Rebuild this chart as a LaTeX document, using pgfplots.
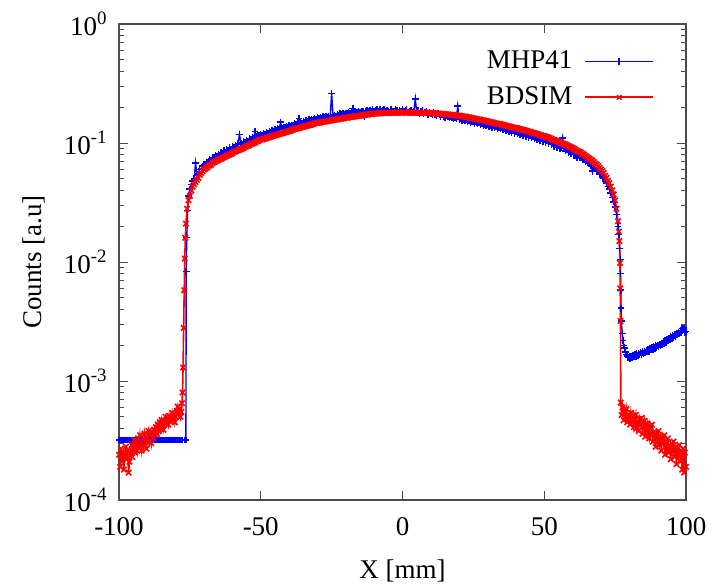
\documentclass[border=0pt]{standalone}
\usepackage{fontspec}
\setmainfont{Liberation Serif}
\usepackage{pgfplots}
\pgfplotsset{compat=1.18}
\definecolor{gpblue}{RGB}{0,0,255}
\definecolor{gpred}{RGB}{255,0,0}
\pgfplotsset{
  blueleg/.style={legend image code/.code={\draw[draw=gpblue,line width=0.9pt] (0pt,0pt) -- (34pt,0pt); \draw[draw=gpblue,line width=0.7pt] plot[mark=+,mark size=1.6pt] coordinates {(17pt,0pt)};}},
  redleg/.style={legend image code/.code={\draw[draw=gpred,line width=0.9pt] (0pt,0pt) -- (34pt,0pt); \draw[draw=gpred,line width=0.7pt] plot[mark=x,mark size=1.6pt] coordinates {(17pt,0pt)};}}
}

\begin{document}
\fontsize{13.5}{16}\selectfont
\begin{tikzpicture}
\path[use as bounding box] (-59.5pt,-43pt) rectangle (298.5pt,250pt);
\begin{axis}[
  scale only axis,
  width=283.5pt, height=238pt,
  at={(0,0)}, anchor=south west,
  ymode=log,
  xmin=-100, xmax=100,
  ymin=1e-4, ymax=1,
  xtick={-100,-50,0,50,100},
  xticklabels={-100,-50,0,50,100},
  ytick={1e-4,1e-3,1e-2,1e-1,1},
  yticklabels={10\textsuperscript{-4},10\textsuperscript{-3},10\textsuperscript{-2},10\textsuperscript{-1},10\textsuperscript{0}},
  minor xtick={},
  tick align=inside,
  major tick length=4.5pt,
  minor tick length=2.5pt,
  every tick/.style={black!70, line width=0.5pt},
  axis line style={black!70, line width=0.6pt},
  tick label style={font=\fontsize{13.5}{16}\selectfont},
  label style={font=\fontsize{13.5}{16}\selectfont},
  xticklabel style={yshift=-4pt},
  yticklabel style={xshift=-1pt},
  xlabel={X [mm]},
  ylabel={Counts [a.u]},
  xlabel style={yshift=-3pt},
  legend style={draw=none, fill=none, at={(0.955,0.962)}, anchor=north east,
    font=\fontsize{13.5}{16}\selectfont, row sep=3pt, column sep=4pt},
  legend cell align=right,
  legend plot pos=right,
]
\addplot[gpblue, line width=0.7pt, mark=+, mark size=1.7pt, blueleg]
coordinates {
(-100,0.00032)(-99.5,0.00032)(-99,0.00032)(-98.5,0.00032)(-98,0.00032)(-97.5,0.00032)(-97,0.00032)(-96.5,0.00032)(-96,0.00032)(-95.5,0.00032)
(-95,0.00032)(-94.5,0.00032)(-94,0.00032)(-93.5,0.00032)(-93,0.00032)(-92.5,0.00032)(-92,0.00032)(-91.5,0.00032)(-91,0.00032)(-90.5,0.00032)
(-90,0.00032)(-89.5,0.00032)(-89,0.00032)(-88.5,0.00032)(-88,0.00032)(-87.5,0.00032)(-87,0.00032)(-86.5,0.00032)(-86,0.00032)(-85.5,0.00032)
(-85,0.00032)(-84.5,0.00032)(-84,0.00032)(-83.5,0.00032)(-83,0.00032)(-82.5,0.00032)(-82,0.00032)(-81.5,0.00032)(-81,0.00032)(-80.5,0.00032)
(-80,0.00032)(-79.5,0.00032)(-79,0.00032)(-78.5,0.00032)(-78,0.00032)(-77.5,0.00032)(-77,0.00032)(-76.6,0.00032)(-76.4,0.00032)
(-76.3,0.0083)(-76.1,0.016)(-75.8,0.027)(-75.5,0.036)(-75,0.041)(-74.5,0.045)(-74,0.048)(-73.5,0.050)(-73,0.068)(-72.5,0.054)
(-72,0.055)(-71.5,0.060)(-71,0.061)(-70.5,0.064)(-70,0.066)(-69.5,0.066)(-69,0.069)(-68.5,0.070)(-68,0.073)(-67.5,0.072)
(-67,0.076)(-66.5,0.075)(-66,0.078)(-65.5,0.077)(-65,0.081)(-64.5,0.079)(-64,0.083)(-63.5,0.082)(-63,0.086)(-62.5,0.084)
(-62,0.088)(-61.5,0.086)(-61,0.091)(-60.5,0.089)(-60,0.093)(-59.5,0.092)(-59,0.096)(-58.5,0.094)(-58,0.099)(-57.5,0.118)
(-57,0.100)(-56.5,0.098)(-56,0.103)(-55.5,0.102)(-55,0.106)(-54.5,0.104)(-54,0.109)(-53.5,0.108)(-53,0.112)(-52.5,0.110)
(-52,0.125)(-51.5,0.113)(-51,0.117)(-50.5,0.116)(-50,0.119)(-49.5,0.116)(-49,0.121)(-48.5,0.119)(-48,0.124)(-47.5,0.121)
(-47,0.126)(-46.5,0.124)(-46,0.128)(-45.5,0.125)(-45,0.130)(-44.5,0.127)(-44,0.132)(-43.5,0.130)(-43,0.150)(-42.5,0.132)
(-42,0.136)(-41.5,0.134)(-41,0.138)(-40.5,0.136)(-40,0.140)(-39.5,0.138)(-39,0.142)(-38.5,0.141)(-38,0.146)(-37.5,0.143)
(-37,0.148)(-36.5,0.160)(-36,0.149)(-35.5,0.147)(-35,0.152)(-34.5,0.150)(-34,0.155)(-33.5,0.152)(-33,0.157)(-32.5,0.154)
(-32,0.159)(-31.5,0.157)(-31,0.162)(-30.5,0.159)(-30,0.163)(-29.5,0.160)(-29,0.165)(-28.5,0.162)(-28,0.166)(-27.5,0.163)
(-27,0.168)(-26.5,0.165)(-26,0.169)(-25.5,0.167)(-25,0.262)(-24.5,0.168)(-24,0.172)(-23.5,0.169)(-23,0.174)(-22.5,0.171)
(-22,0.176)(-21.5,0.173)(-21,0.177)(-20.5,0.174)(-20,0.178)(-19.5,0.176)(-19,0.180)(-18.5,0.177)(-18,0.182)(-17.5,0.196)
(-17,0.181)(-16.5,0.184)(-16,0.180)(-15.5,0.185)(-15,0.182)(-14.5,0.186)(-14,0.183)(-13.5,0.168)(-13,0.185)(-12.5,0.188)
(-12,0.184)(-11.5,0.189)(-11,0.186)(-10.5,0.190)(-10,0.185)(-9.5,0.189)(-9,0.192)(-8.5,0.184)(-8,0.190)(-7.5,0.186)
(-7,0.188)(-6.5,0.191)(-6,0.184)(-5.5,0.189)(-5,0.186)(-4.5,0.180)(-4,0.191)(-3.5,0.186)(-3,0.183)(-2.5,0.190)
(-2,0.187)(-1.5,0.181)(-1,0.189)(-0.5,0.185)(0,0.190)(0.5,0.183)(1,0.187)(1.5,0.191)(2,0.182)(2.5,0.186)
(3,0.189)(3.5,0.180)(4,0.185)(4.5,0.235)(5,0.183)(5.5,0.187)(6,0.178)(6.5,0.184)(7,0.187)(7.5,0.176)
(8,0.182)(8.5,0.185)(9,0.174)(9.5,0.180)(10,0.178)(10.5,0.172)(11,0.180)(11.5,0.175)(12,0.170)(12.5,0.176)
(13,0.172)(13.5,0.167)(14,0.173)(14.5,0.168)(15,0.165)(15.5,0.170)(16,0.166)(16.5,0.162)(17,0.167)(17.5,0.163)
(18,0.159)(18.5,0.164)(19,0.160)(19.5,0.205)(20,0.157)(20.5,0.161)(21,0.155)(21.5,0.158)(22,0.153)(22.5,0.156)
(23,0.150)(23.5,0.154)(24,0.149)(24.5,0.152)(25,0.150)(25.5,0.147)(26,0.149)(26.5,0.145)(27,0.148)(27.5,0.143)
(28,0.146)(28.5,0.141)(29,0.144)(29.5,0.140)(30,0.142)(30.5,0.138)(31,0.141)(31.5,0.136)(32,0.139)(32.5,0.134)
(33,0.137)(33.5,0.132)(34,0.136)(34.5,0.131)(35,0.134)(35.5,0.129)(36,0.132)(36.5,0.127)(37,0.130)(37.5,0.125)
(38,0.128)(38.5,0.123)(39,0.126)(39.5,0.121)(40,0.125)(40.5,0.120)(41,0.123)(41.5,0.118)(42,0.121)(42.5,0.116)
(43,0.119)(43.5,0.114)(44,0.117)(44.5,0.112)(45,0.115)(45.5,0.110)(46,0.113)(46.5,0.108)(47,0.111)(47.5,0.106)
(48,0.109)(48.5,0.104)(49,0.108)(49.5,0.103)(50,0.106)(50.5,0.101)(51,0.104)(51.5,0.099)(52,0.102)(52.5,0.097)
(53,0.099)(53.5,0.094)(54,0.097)(54.5,0.092)(55,0.095)(55.5,0.090)(56,0.092)(56.5,0.110)(57,0.090)(57.5,0.086)
(58,0.088)(58.5,0.083)(59,0.086)(59.5,0.081)(60,0.084)(60.5,0.080)(61,0.081)(61.5,0.075)(62,0.078)(62.5,0.076)
(63,0.076)(63.5,0.073)(64,0.073)(64.5,0.070)(65,0.071)(65.5,0.068)(66,0.068)(66.5,0.064)(67,0.058)(67.5,0.062)
(68,0.061)(68.5,0.059)(69,0.058)(69.5,0.055)(70,0.055)(70.5,0.052)(71,0.051)(71.5,0.048)(72,0.046)(72.5,0.043)
(73,0.041)(73.5,0.038)(74,0.035)(74.5,0.032)(75,0.029)(75.5,0.025)(76,0.020)(76.3,0.017)(76.6,0.013)(76.8,0.0105)
(76.9,0.0080)(77.0,0.0058)(77.1,0.0041)(77.2,0.0032)(77.5,0.0025)(77.8,0.0022)(78,0.0020)(78.3,0.0019)(78.6,0.00175)(79,0.00168)
(79.3,0.00162)(79.6,0.00158)(80,0.00160)(80.3,0.00155)(80.6,0.00162)(81,0.00158)(81.3,0.00165)(81.6,0.00159)(82,0.00166)(82.3,0.00161)
(82.6,0.00170)(83,0.00163)(83.3,0.00172)(83.6,0.00166)(84,0.00174)(84.3,0.00168)(84.6,0.00176)(85,0.00171)(85.3,0.00179)(85.6,0.00173)
(86,0.00181)(86.3,0.00176)(86.6,0.00185)(87,0.00178)(87.3,0.00187)(87.6,0.00182)(88,0.00191)(88.3,0.00185)(88.6,0.00194)(89,0.00188)
(89.3,0.00198)(89.6,0.00192)(90,0.00201)(90.3,0.00195)(90.6,0.00205)(91,0.00199)(91.3,0.00209)(91.6,0.00203)(92,0.00214)(92.3,0.00207)
(92.6,0.00219)(93,0.00212)(93.3,0.00224)(93.6,0.00217)(94,0.00229)(94.3,0.00222)(94.6,0.00235)(95,0.00227)(95.3,0.00240)(95.6,0.00233)
(96,0.00246)(96.3,0.00238)(96.6,0.00252)(97,0.00244)(97.3,0.00258)(97.6,0.00250)(98,0.00264)(98.3,0.00255)(98.6,0.00275)(99,0.00268)
(99.3,0.00278)(99.6,0.00255)(100,0.00262)
};
\addlegendentry{MHP41}
\addplot[gpred, line width=0.8pt, mark=x, mark size=1.9pt, redleg]
coordinates {
(-100,0.00024)(-99.6,0.00019)(-99.3,0.00027)(-99,0.00021)(-98.6,0.00025)(-98.3,0.00018)(-98,0.00023)(-97.6,0.00028)(-97.3,0.00022)(-97,0.00026)
(-96.6,0.00017)(-96.3,0.00021)(-96,0.00025)(-95.6,0.00029)(-95.3,0.00023)(-95,0.00027)(-94.6,0.00032)(-94.3,0.00025)(-94,0.00030)(-93.6,0.00026)
(-93.3,0.00033)(-93,0.00028)(-92.6,0.00035)(-92.3,0.00030)(-92,0.00026)(-91.6,0.00033)(-91.3,0.00029)(-91,0.00036)(-90.6,0.00031)(-90.3,0.00027)
(-90,0.00034)(-89.6,0.00038)(-89.3,0.00031)(-89,0.00035)(-88.6,0.00030)(-88.3,0.00037)(-88,0.00033)(-87.6,0.00039)(-87.3,0.00035)(-87,0.00041)
(-86.6,0.00036)(-86.3,0.00043)(-86,0.00038)(-85.6,0.00045)(-85.3,0.00040)(-85,0.00047)(-84.6,0.00042)(-84.3,0.00039)(-84,0.00046)(-83.6,0.00050)
(-83.3,0.00044)(-83,0.00048)(-82.6,0.00043)(-82.3,0.00051)(-82,0.00046)(-81.6,0.00049)(-81.3,0.00054)(-81,0.00047)(-80.6,0.00052)(-80.3,0.00045)
(-80,0.00050)(-79.6,0.00056)(-79.3,0.00061)(-79,0.00053)(-78.6,0.00058)(-78.3,0.00050)(-78,0.00055)(-77.8,0.00065)(-77.6,0.00080)(-77.4,0.0013)
(-77.2,0.0028)(-77.0,0.0058)
(-76.8,0.0107)(-76.6,0.016)(-76.4,0.021)(-76.0,0.028)(-75.5,0.033)(-75,0.036)(-74.5,0.040)(-74,0.043)(-73.5,0.045)(-73,0.047)
(-72.5,0.049)(-72,0.051)(-71.5,0.054)(-71,0.056)(-70.5,0.058)(-70,0.060)(-69.5,0.061)(-69,0.062)(-68.5,0.064)(-68,0.065)
(-67.5,0.066)(-67,0.068)(-66.5,0.069)(-66,0.070)(-65.5,0.071)(-65,0.072)(-64.5,0.073)(-64,0.074)(-63.5,0.075)(-63,0.076)
(-62.5,0.077)(-62,0.078)(-61.5,0.079)(-61,0.080)(-60.5,0.081)(-60,0.082)(-59.5,0.084)(-59,0.085)(-58.5,0.086)(-58,0.087)
(-57.5,0.088)(-57,0.089)(-56.5,0.090)(-56,0.091)(-55.5,0.093)(-55,0.094)(-54.5,0.095)(-54,0.096)(-53.5,0.098)(-53,0.099)
(-52.5,0.100)(-52,0.101)(-51.5,0.103)(-51,0.104)(-50.5,0.106)(-50,0.107)(-49.5,0.107)(-49,0.108)(-48.5,0.109)(-48,0.110)
(-47.5,0.111)(-47,0.112)(-46.5,0.113)(-46,0.114)(-45.5,0.115)(-45,0.116)(-44.5,0.117)(-44,0.118)(-43.5,0.119)(-43,0.120)
(-42.5,0.121)(-42,0.122)(-41.5,0.123)(-41,0.124)(-40.5,0.125)(-40,0.126)(-39.5,0.127)(-39,0.128)(-38.5,0.130)(-38,0.131)
(-37.5,0.132)(-37,0.133)(-36.5,0.134)(-36,0.135)(-35.5,0.136)(-35,0.137)(-34.5,0.138)(-34,0.139)(-33.5,0.140)(-33,0.141)
(-32.5,0.142)(-32,0.143)(-31.5,0.145)(-31,0.146)(-30.5,0.147)(-30,0.148)(-29.5,0.148)(-29,0.149)(-28.5,0.150)(-28,0.151)
(-27.5,0.151)(-27,0.152)(-26.5,0.153)(-26,0.154)(-25.5,0.154)(-25,0.155)(-24.5,0.156)(-24,0.157)(-23.5,0.157)(-23,0.158)
(-22.5,0.159)(-22,0.160)(-21.5,0.160)(-21,0.161)(-20.5,0.162)(-20,0.163)(-19.5,0.163)(-19,0.164)(-18.5,0.165)(-18,0.166)
(-17.5,0.166)(-17,0.167)(-16.5,0.168)(-16,0.169)(-15.5,0.169)(-15,0.170)(-14.5,0.170)(-14,0.171)(-13.5,0.172)(-13,0.173)
(-12.5,0.173)(-12,0.174)(-11.5,0.175)(-11,0.176)(-10.5,0.176)(-10,0.177)(-9.5,0.177)(-9,0.177)(-8.5,0.178)(-8,0.178)
(-7.5,0.178)(-7,0.178)(-6.5,0.179)(-6,0.179)(-5.5,0.179)(-5,0.179)(-4.5,0.179)(-4,0.179)(-3.5,0.180)(-3,0.180)
(-2.5,0.180)(-2,0.180)(-1.5,0.180)(-1,0.180)(-0.5,0.180)(0,0.180)(0.5,0.181)(1,0.181)(1.5,0.180)(2,0.180)
(2.5,0.180)(3,0.180)(3.5,0.180)(4,0.180)(4.5,0.180)(5,0.180)(5.5,0.180)(6,0.180)(6.5,0.179)(7,0.179)
(7.5,0.179)(8,0.179)(8.5,0.179)(9,0.179)(9.5,0.179)(10,0.179)(10.5,0.178)(11,0.178)(11.5,0.177)(12,0.177)
(12.5,0.177)(13,0.177)(13.5,0.176)(14,0.176)(14.5,0.175)(15,0.175)(15.5,0.174)(16,0.174)(16.5,0.173)(17,0.173)
(17.5,0.172)(18,0.172)(18.5,0.171)(19,0.171)(19.5,0.170)(20,0.170)(20.5,0.169)(21,0.168)(21.5,0.167)(22,0.167)
(22.5,0.166)(23,0.165)(23.5,0.164)(24,0.163)(24.5,0.162)(25,0.161)(25.5,0.160)(26,0.159)(26.5,0.158)(27,0.158)
(27.5,0.157)(28,0.156)(28.5,0.155)(29,0.154)(29.5,0.153)(30,0.152)(30.5,0.151)(31,0.150)(31.5,0.149)(32,0.148)
(32.5,0.147)(33,0.146)(33.5,0.145)(34,0.145)(34.5,0.144)(35,0.143)(35.5,0.142)(36,0.141)(36.5,0.140)(37,0.139)
(37.5,0.138)(38,0.137)(38.5,0.136)(39,0.135)(39.5,0.134)(40,0.134)(40.5,0.133)(41,0.132)(41.5,0.131)(42,0.130)
(42.5,0.129)(43,0.128)(43.5,0.127)(44,0.126)(44.5,0.125)(45,0.124)(45.5,0.123)(46,0.122)(46.5,0.121)(47,0.120)
(47.5,0.119)(48,0.118)(48.5,0.117)(49,0.116)(49.5,0.115)(50,0.114)(50.5,0.113)(51,0.112)(51.5,0.111)(52,0.110)
(52.5,0.108)(53,0.107)(53.5,0.106)(54,0.105)(54.5,0.104)(55,0.103)(55.5,0.101)(56,0.100)(56.5,0.099)(57,0.098)
(57.5,0.097)(58,0.096)(58.5,0.094)(59,0.093)(59.5,0.092)(60,0.091)(60.5,0.089)(61,0.088)(61.5,0.086)(62,0.085)
(62.5,0.084)(63,0.083)(63.5,0.081)(64,0.080)(64.5,0.078)(65,0.077)(65.5,0.075)(66,0.074)(66.5,0.072)(67,0.071)
(67.5,0.069)(68,0.067)(68.5,0.066)(69,0.064)(69.5,0.062)(70,0.060)(70.5,0.058)(71,0.056)(71.5,0.053)(72,0.051)
(72.5,0.048)(73,0.046)(73.5,0.043)(74,0.040)(74.5,0.037)(75,0.033)(75.5,0.028)(76,0.022)(76.3,0.018)(76.5,0.015)
(76.7,0.0098)(76.8,0.0060)(76.9,0.0032)(77.0,0.00066)(77.3,0.00052)(77.6,0.00060)(78,0.00047)(78.3,0.00056)(78.6,0.00050)(79,0.00058)
(79.3,0.00045)(79.6,0.00052)(80,0.00049)(80.3,0.00043)(80.6,0.00054)(81,0.00046)(81.3,0.00050)(81.6,0.00041)(82,0.00047)(82.3,0.00052)
(82.6,0.00040)(83,0.00045)(83.3,0.00038)(83.6,0.00048)(84,0.00043)(84.3,0.00049)(84.6,0.00036)(85,0.00042)(85.3,0.00046)(85.6,0.00034)
(86,0.00040)(86.3,0.00044)(86.6,0.00037)(87,0.00033)(87.3,0.00041)(87.6,0.00036)(88,0.00043)(88.3,0.00031)(88.6,0.00037)(89,0.00034)
(89.3,0.00028)(89.6,0.00036)(90,0.00032)(90.3,0.00038)(90.6,0.00029)(91,0.00033)(91.3,0.00026)(91.6,0.00034)(92,0.00030)(92.3,0.00035)
(92.6,0.00024)(93,0.00031)(93.3,0.00027)(93.6,0.00033)(94,0.00025)(94.3,0.00029)(94.6,0.00022)(95,0.00030)(95.3,0.00026)(95.6,0.00031)
(96,0.00023)(96.3,0.00028)(96.6,0.00020)(97,0.00027)(97.3,0.00024)(97.6,0.00029)(98,0.00021)(98.3,0.00026)(98.6,0.00018)(99,0.00027)
(99.3,0.00017)(99.6,0.00025)(100,0.00019)
};
\addlegendentry{BDSIM}
\end{axis}
\end{tikzpicture}
\end{document}
